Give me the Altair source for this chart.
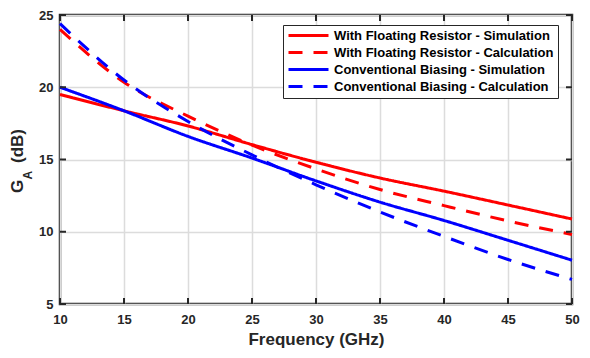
import altair as alt
import pandas as pd

freq = [10, 15, 20, 25, 30, 35, 40, 45, 50]
fr_sim = [19.5, 18.37, 17.32, 16.03, 14.81, 13.72, 12.81, 11.85, 10.88]
fr_calc = [24.0, 20.35, 18.0, 16.0, 14.35, 12.92, 11.81, 10.75, 9.81]
cb_sim = [20.0, 18.37, 16.6, 15.1, 13.52, 12.05, 10.78, 9.41, 8.03]
cb_calc = [24.4, 20.5, 17.63, 15.32, 13.25, 11.37, 9.68, 8.08, 6.7]

series = [
    "With Floating Resistor - Simulation",
    "With Floating Resistor - Calculation",
    "Conventional Biasing - Simulation",
    "Conventional Biasing - Calculation",
]
colors = ["#ff0000", "#ff0000", "#0000ff", "#0000ff"]
dashes = [[1, 0], [14, 11], [1, 0], [14, 11]]

x_ticks = [10, 15, 20, 25, 30, 35, 40, 45, 50]
y_ticks = [5, 10, 15, 20, 25]

rows = []
for name, vals in zip(series, [fr_sim, fr_calc, cb_sim, cb_calc]):
    for f, v in zip(freq, vals):
        rows.append({"f": f, "g": v, "s": name})
df = pd.DataFrame(rows)

W, H = 512, 289
FONT = "Liberation Sans"
INK = "#262626"


def xenc():
    return alt.X("f:Q", scale=alt.Scale(domain=[10, 50], nice=False),
                 axis=alt.Axis(values=x_ticks, title="Frequency (GHz)", grid=True))


def yenc():
    return alt.Y("g:Q", scale=alt.Scale(domain=[5, 25], nice=False),
                 axis=alt.Axis(values=y_ticks, title=None, grid=True))


leg = alt.Legend(title=None, orient="none", legendX=223, legendY=10)
lines = alt.Chart(df).mark_line(strokeWidth=3, strokeCap="butt", interpolate="monotone").encode(
    x=xenc(),
    y=yenc(),
    color=alt.Color("s:N", scale=alt.Scale(domain=series, range=colors), legend=leg),
    strokeDash=alt.StrokeDash("s:N", scale=alt.Scale(domain=series, range=dashes), legend=leg),
)

xt = pd.DataFrame({"f": x_ticks})
yt = pd.DataFrame({"g": y_ticks})

TL = 6
tb = alt.Chart(xt).mark_rule(color=INK, strokeWidth=2).encode(x=xenc(), y=alt.value(H), y2=alt.value(H - TL))
tt = alt.Chart(xt).mark_rule(color=INK, strokeWidth=2).encode(x=xenc(), y=alt.value(0), y2=alt.value(TL))
tl = alt.Chart(yt).mark_rule(color=INK, strokeWidth=2).encode(y=yenc(), x=alt.value(0), x2=alt.value(TL))
tr = alt.Chart(yt).mark_rule(color=INK, strokeWidth=2).encode(y=yenc(), x=alt.value(W), x2=alt.value(W - TL))


def ytxt(t, size, xv, yv):
    return alt.Chart(pd.DataFrame({"t": [t]})).mark_text(
        angle=270, align="left", baseline="alphabetic", font=FONT, fontWeight="bold",
        fontSize=size, color=INK,
    ).encode(text="t:N", x=alt.value(xv), y=alt.value(yv))


ytitle = ytxt("G", 17, -37, 178) + ytxt("A", 12, -28.5, 164.5) + ytxt("(dB)", 17, -37, 148)

chart = alt.layer(lines, tb, tt, tl, tr, ytitle).properties(
    width=W, height=H, autosize="none",
    padding={"left": 52, "top": 7, "right": 10, "bottom": 44},
).configure_view(stroke=INK, strokeWidth=2.5).configure_axis(
    domain=False, ticks=False, gridColor="#dcdcdc", gridWidth=1.5, labelFlush=False,
    labelFont=FONT, labelFontWeight="bold", labelFontSize=13, labelColor=INK,
    titleFont=FONT, titleFontWeight="bold", titleFontSize=17, titleColor=INK,
).configure_axisX(labelPadding=9, titlePadding=5).configure_axisY(labelPadding=7).configure_legend(
    symbolType="stroke", symbolSize=1600, symbolStrokeWidth=3, clipHeight=13,
    labelFont=FONT, labelFontWeight="bold", labelFontSize=13, labelColor="#000000",
    strokeColor=INK, fillColor="white", padding=4, rowPadding=3, labelOffset=4,
    cornerRadius=0, labelLimit=400,
)

chart.save("out.html", embed_options={"renderer": "svg", "actions": False})
